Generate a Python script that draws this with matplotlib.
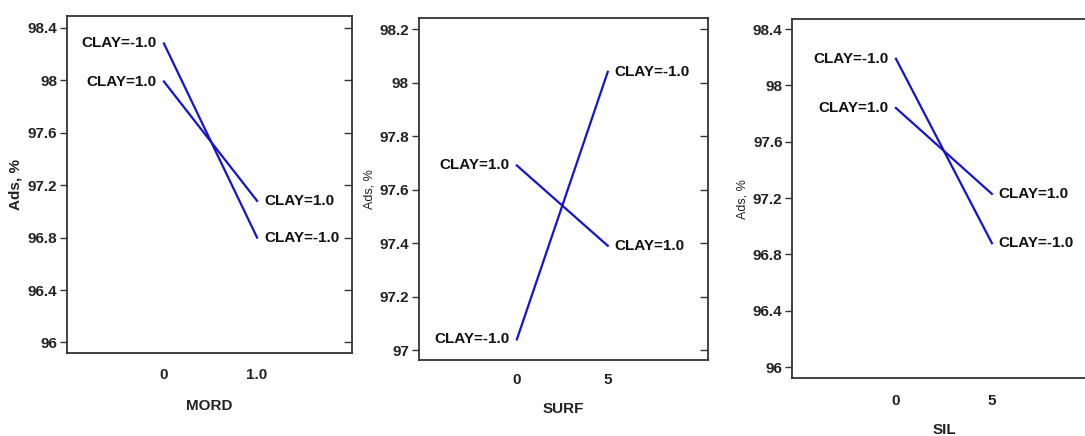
import matplotlib.pyplot as plt

plt.rcParams['font.family'] = ['Liberation Sans', 'DejaVu Sans']

#factor levels and predicted Ads, % at each level
mord_x = [0, 1.0]
mord_clay_neg = [98.28, 96.80]
mord_clay_pos = [97.99, 97.08]

surf_x = [0, 5]
surf_clay_neg = [97.04, 98.04]
surf_clay_pos = [97.69, 97.39]

sil_x = [0, 5]
sil_clay_neg = [98.19, 96.88]
sil_clay_pos = [97.84, 97.23]

mord_ticklabels = ['0', '1.0']
surf_ticklabels = ['0', '5']
sil_ticklabels = ['0', '5']

yticks_a = [96, 96.4, 96.8, 97.2, 97.6, 98, 98.4]
yticks_b = [97, 97.2, 97.4, 97.6, 97.8, 98, 98.2]

line_color = '#1414cc'
spine_color = '#333333'

fig = plt.figure(figsize=(10.85, 4.36), dpi=100)

#one helper for each panel
def draw_panel(rect, x, xlabels, neg, pos, xlim, ylim, yticks, xlabel, ylab_bold, xpad, xlabpad):
    ax = fig.add_axes(rect)
    ax.plot(x, neg, color=line_color, linewidth=1.6)
    ax.plot(x, pos, color=line_color, linewidth=1.6)
    ax.set_xlim(xlim)
    ax.set_ylim(ylim)
    ax.set_xticks(x)
    ax.set_xticklabels(xlabels, fontweight='bold', fontsize=11, color='#222222')
    ax.set_yticks(yticks)
    ax.set_yticklabels(['%g' % v for v in yticks], fontweight='bold', fontsize=11, color='#222222')
    ax.tick_params(axis='x', length=0, pad=xpad)
    ax.tick_params(axis='y', direction='out', length=5, width=1, color=spine_color, pad=2)
    for s in ax.spines.values():
        s.set_color(spine_color)
        s.set_linewidth(1.3)

    #right side ticks point inwards
    ax2 = ax.twinx()
    ax2.set_ylim(ylim)
    ax2.set_yticks(yticks)
    ax2.tick_params(axis='y', direction='in', length=6, width=1, color=spine_color, labelright=False)
    for s in ax2.spines.values():
        s.set_visible(False)

    ax.set_xlabel(xlabel, fontweight='bold', fontsize=11, labelpad=xlabpad, color='#222222')
    if ylab_bold:
        ax.set_ylabel('Ads, %', fontweight='bold', fontsize=11, labelpad=4, color='#222222')
    else:
        ax.set_ylabel('Ads, %', fontsize=9, labelpad=3, color='#222222')

    #CLAY labels at both line ends
    for ys, txt in [(neg, 'CLAY=-1.0'), (pos, 'CLAY=1.0')]:
        ax.annotate(txt, (x[0], ys[0]), xytext=(-5, 0), textcoords='offset points',
                    ha='right', va='center', fontweight='bold', fontsize=11, color='#111111')
        ax.annotate(txt, (x[1], ys[1]), xytext=(5, 0), textcoords='offset points',
                    ha='left', va='center', fontweight='bold', fontsize=11, color='#111111')
    return ax

draw_panel([0.0618, 0.1904, 0.2627, 0.773], mord_x, mord_ticklabels, mord_clay_neg, mord_clay_pos,
           (-1.04, 2.02), (95.92, 98.49), yticks_a, 'MORD', True, 11, 12)
draw_panel([0.3859, 0.1743, 0.2664, 0.7837], surf_x, surf_ticklabels, surf_clay_neg, surf_clay_pos,
           (-5.4, 10.5), (96.963, 98.24), yticks_b, 'SURF', False, 9.5, 11)
draw_panel([0.7302, 0.1323, 0.2813, 0.8234], sil_x, sil_ticklabels, sil_clay_neg, sil_clay_pos,
           (-5.4, 10.5), (95.92, 98.47), yticks_a, 'SIL', False, 11, 11)

plt.savefig('out.png', dpi=100)
